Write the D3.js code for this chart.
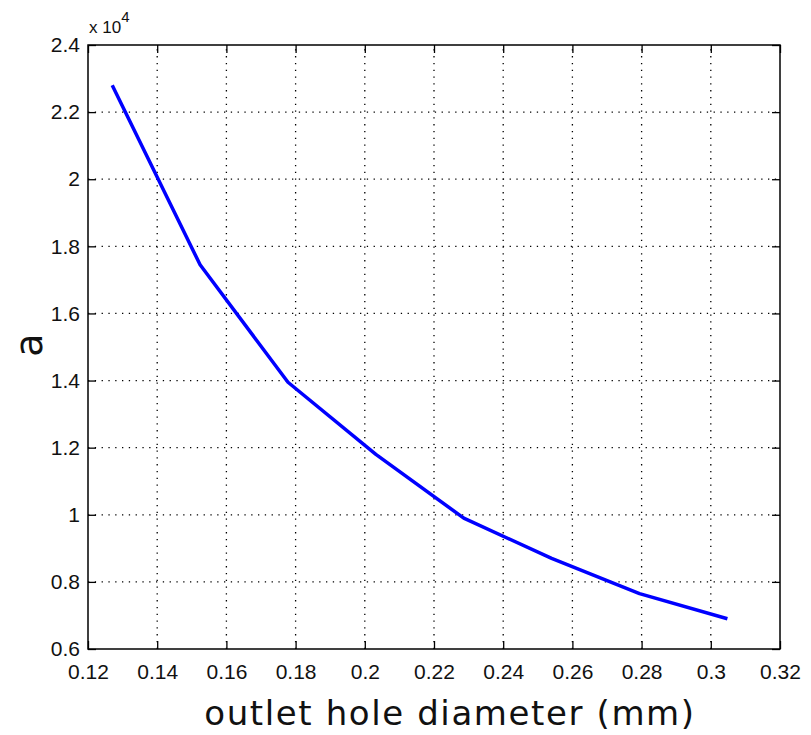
<!DOCTYPE html>
<html>
<head>
<meta charset="utf-8">
<script src="https://cdn.jsdelivr.net/npm/d3@7"></script>
<style>
  body { margin: 0; background: #fff; }
  svg { display: block; }
</style>
</head>
<body>
<svg id="vis"></svg>
<script>
// datos (diametro en mm, a)
const diametro = [0.127, 0.1524, 0.1778, 0.2032, 0.2286, 0.254, 0.2794, 0.3048];
const valoresA = [22800, 17450, 13950, 11800, 9900, 8700, 7650, 6900];
const ticksX = [0.12, 0.14, 0.16, 0.18, 0.2, 0.22, 0.24, 0.26, 0.28, 0.3, 0.32];
const ticksY = [0.6, 0.8, 1, 1.2, 1.4, 1.6, 1.8, 2, 2.2, 2.4];
const exponente = 4;

const WIDTH = 811;
const HEIGHT = 735;
const margin = { left: 88, right: 31, top: 45, bottom: 86 };

const svg = d3.select("#vis")
    .attr("width", WIDTH)
    .attr("height", HEIGHT);

const x = d3.scaleLinear().domain([0.12, 0.32]).range([margin.left, WIDTH - margin.right]);
const y = d3.scaleLinear().domain([0.6, 2.4]).range([HEIGHT - margin.bottom, margin.top]);

const x0 = margin.left, x1 = WIDTH - margin.right;
const y0 = HEIGHT - margin.bottom, y1 = margin.top;
const tickFont = "'Liberation Sans', Arial, sans-serif";

// grilla punteada
const grid = svg.append("g").attr("stroke", "#000").attr("stroke-width", 1.3)
    .attr("stroke-dasharray", "1.3,5.5");
grid.selectAll(".gx").data(ticksX.slice(1, -1)).join("line")
    .attr("x1", d => x(d)).attr("x2", d => x(d))
    .attr("y1", y0).attr("y2", y1);
grid.selectAll(".gy").data(ticksY.slice(1, -1)).join("line")
    .attr("y1", d => y(d)).attr("y2", d => y(d))
    .attr("x1", x0).attr("x2", x1);

// ejes (abajo, izquierda, arriba, derecha) con ticks hacia adentro
const ejeX = d3.axisBottom(x).tickValues(ticksX).tickSize(-8).tickPadding(15).tickFormat(d3.format("~g"));
const ejeY = d3.axisLeft(y).tickValues(ticksY).tickSize(-8).tickPadding(8).tickFormat(d3.format("~g"));

const gx = svg.append("g").attr("transform", `translate(0, ${y0})`).call(ejeX);
const gy = svg.append("g").attr("transform", `translate(${x0}, 0)`).call(ejeY);
svg.append("g").attr("transform", `translate(0, ${y1})`)
    .call(d3.axisTop(x).tickValues(ticksX).tickSize(-8).tickFormat(""));
svg.append("g").attr("transform", `translate(${x1}, 0)`)
    .call(d3.axisRight(y).tickValues(ticksY).tickSize(-8).tickFormat(""));

svg.selectAll(".domain").remove();
svg.selectAll(".tick line").attr("stroke", "#000").attr("stroke-width", 1.3);
[gx, gy].forEach(g => g.selectAll("text")
    .attr("font-family", tickFont).attr("font-size", 21).attr("fill", "#111"));
gx.selectAll("text").attr("dy", "0.71em");

// caja
svg.append("rect")
    .attr("x", x0).attr("y", y1)
    .attr("width", x1 - x0).attr("height", y0 - y1)
    .attr("fill", "none").attr("stroke", "#000").attr("stroke-width", 1.5);

// curva
const datos = diametro.map((d, i) => ({ d: d, a: valoresA[i] / Math.pow(10, exponente) }));
svg.append("path")
    .datum(datos)
    .attr("fill", "none")
    .attr("stroke", "#0000ff")
    .attr("stroke-width", 3.5)
    .attr("stroke-linejoin", "round")
    .attr("d", d3.line().x(d => x(d.d)).y(d => y(d.a)));

// multiplicador x 10^4
const mult = svg.append("text")
    .attr("x", x0 + 1).attr("y", 33)
    .attr("font-family", tickFont).attr("font-size", 17).attr("fill", "#111");
mult.append("tspan").text("x 10");
mult.append("tspan").attr("dy", -11).attr("font-size", 15).text(exponente);

// etiquetas
svg.append("text")
    .attr("x", 450).attr("y", 725)
    .attr("text-anchor", "middle")
    .attr("font-family", "'DejaVu Sans', Verdana, sans-serif")
    .attr("font-size", 34).attr("letter-spacing", 1.6).attr("fill", "#111")
    .text("outlet hole diameter (mm)");

svg.append("text")
    .attr("transform", "translate(42, 345) rotate(-90)")
    .attr("text-anchor", "middle")
    .attr("font-family", "'DejaVu Sans', Verdana, sans-serif")
    .attr("font-size", 38).attr("fill", "#111")
    .text("a");
</script>
</body>
</html>
